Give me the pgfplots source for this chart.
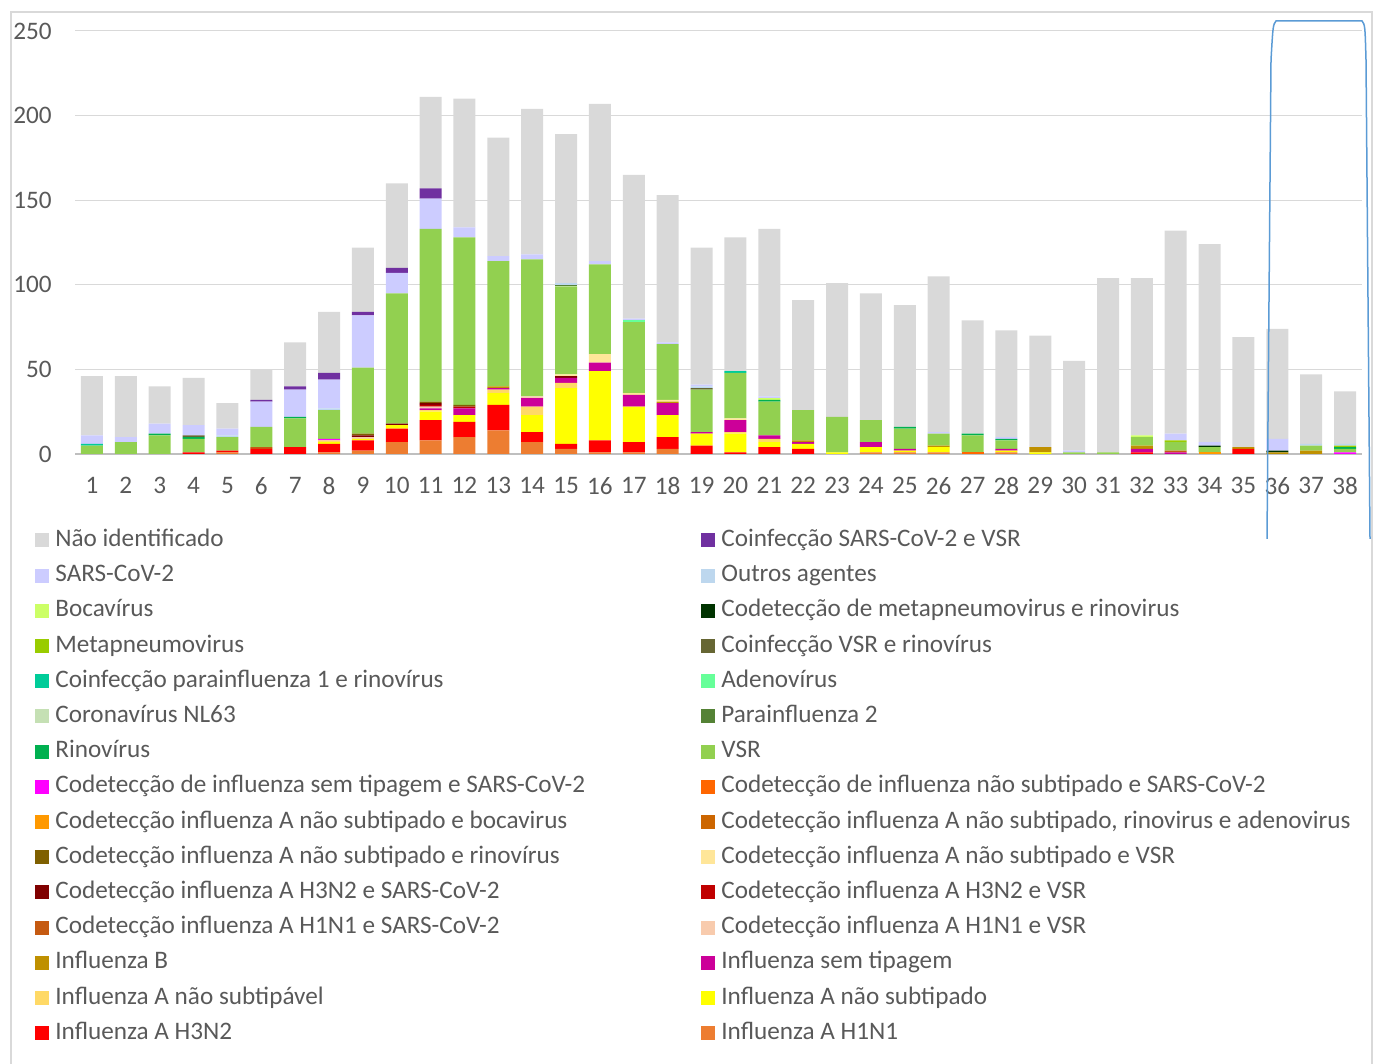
\documentclass[border=0pt]{standalone}
\usepackage{pgfplots}
\pgfplotsset{compat=1.18}
\usepackage{pgfplotstable}
\usepackage{fontspec}
\setmainfont{Carlito}
\definecolor{cnid}{HTML}{D9D9D9}
\definecolor{csarsv}{HTML}{7030A0}
\definecolor{csars}{HTML}{CCCCFF}
\definecolor{coutros}{HTML}{BDD7EE}
\definecolor{cboca}{HTML}{CCFF66}
\definecolor{cmetar}{HTML}{003300}
\definecolor{cmeta}{HTML}{99CC00}
\definecolor{cvsrr}{HTML}{666633}
\definecolor{cpfr}{HTML}{00CC99}
\definecolor{cadeno}{HTML}{66FF99}
\definecolor{cnl}{HTML}{C5E0B4}
\definecolor{cpf}{HTML}{548235}
\definecolor{crino}{HTML}{00B050}
\definecolor{cvsr}{HTML}{92D050}
\definecolor{csts}{HTML}{FF00FF}
\definecolor{cins}{HTML}{FF6600}
\definecolor{cansb}{HTML}{FF9900}
\definecolor{cansra}{HTML}{CC6600}
\definecolor{cansr}{HTML}{7F6000}
\definecolor{cansvsr}{HTML}{FFE699}
\definecolor{chts}{HTML}{800000}
\definecolor{chtv}{HTML}{C00000}
\definecolor{cho}{HTML}{C55A11}
\definecolor{chov}{HTML}{F8CBAD}
\definecolor{cfb}{HTML}{BF9000}
\definecolor{cst}{HTML}{CC0099}
\definecolor{cansv}{HTML}{FFD966}
\definecolor{cans}{HTML}{FFFF00}
\definecolor{chtn}{HTML}{FF0000}
\definecolor{chon}{HTML}{ED7D31}
\definecolor{ctxt}{HTML}{595959}
\definecolor{csel}{HTML}{5B9BD5}

\pgfplotstableread{
x h1n1 h3n2 ans ansv st fb h1v h1s h3v h3s ansvsr ansr ansra ansb ins sts vsr rino pf2 nl63 adeno pfr vsrr meta metar boca outros sars sarsv nid
1  0 0 0 0 0 0  0 0 0 0 0 0 0 0 0 0  5 0 0 0 0 1  0 0 0 0 0 5 0 35
2  0 0 0 0 0 0  0 0 0 0 0 0 0 0 0 0  7 0 0 0 0 0  0 0 0 0 0 3 0 36
3  0 0 0 0 0 0  0 0 0 0 0 0 0 0 0 0  11 1 0 0 0 0  0 0 0 0 0 6 0 22
4  0 1 0 0 0 0  0 0 0 0 0 0 0 0 0 0  8 1 0 0 0 0  1 0 0 0 0 6 0 28
5  1 1 0 0 0 0  0 0 0 0 0 0 0 0 0 0  8 0 0 0 0 0  0 0 0 0 1 4 0 15
6  0 3 0 0 0 0  0 1 0 0 0 0 0 0 0 0  12 0 0 0 0 0  0 0 0 0 0 15 1 18
7  0 4 0 0 0 0  0 0 0 0 0 0 0 0 0 0  17 1 0 0 0 0  0 0 0 0 0 16 2 26
8  1 5 1 1 0 0  0 0 0 0 0 0 0 0 0 1  17 0 0 0 0 0  0 0 0 0 1 17 4 36
9  2 6 1 0 0 0  1 0 0 1 0 1 0 0 0 0  39 0 0 0 0 0  0 0 0 0 0 31 2 38
10 7 8 2 0 0 0  0 0 0 1 0 0 0 0 0 0  77 0 0 0 0 0  0 0 0 0 0 12 3 50
11 8 12 5 1 1 0 1 0 1 1 0 1 0 0 0 0  102 0 0 0 0 0  0 0 0 0 0 18 6 54
12 10 9 4 0 4 0 0 0 1 0 0 1 0 0 0 0  99 0 0 0 0 0  0 0 0 0 0 6 0 76
13 14 15 7 2 1 1 0 0 0 0 0 0 0 0 0 0  74 0 0 0 0 0  0 0 0 0 0 3 0 70
14 7 6 10 5 5 0 1 0 0 0 0 0 0 0 0 0  81 0 0 0 0 0  0 0 0 0 0 3 0 86
15 3 3 33 3 3 0 0 0 0 1 1 0 0 0 0 0  52 0 1 0 0 0  0 0 0 0 1 0 0 88
16 1 7 41 0 5 0 0 0 0 0 5 0 0 0 0 0  53 0 0 0 0 0  0 0 0 0 0 2 0 93
17 1 6 21 0 7 0 0 0 0 0 1 0 0 0 0 0  42 0 0 0 1 0  0 0 0 0 0 1 0 85
18 3 7 13 0 7 1 0 0 0 0 1 0 0 0 0 0  33 0 0 0 0 0  0 0 0 0 0 1 0 87
19 0 5 7 0 1 0  0 0 0 0 0 0 0 0 0 0  25 0 0 0 0 0  1 0 0 0 1 1 0 81
20 0 1 11 1 7 0 0 0 0 0 1 0 0 0 0 0  27 0 0 0 0 1  0 0 0 0 0 0 0 79
21 0 4 3 2 2 0  0 0 0 0 0 0 0 0 0 0  20 1 0 0 0 0  0 0 0 1 0 1 0 99
22 0 3 3 0 1 1  0 0 0 0 0 0 0 0 0 0  18 0 0 0 0 0  0 0 0 0 0 0 0 65
23 0 0 1 0 0 0  0 0 0 0 0 0 0 0 0 0  21 0 0 0 0 0  0 0 0 0 0 0 0 79
24 1 0 3 0 3 0  0 0 0 0 0 0 0 0 0 0  13 0 0 0 0 0  0 0 0 0 0 0 0 75
25 1 0 1 0 1 0  0 0 0 0 0 0 0 0 0 0  12 1 0 0 0 0  0 0 0 0 0 0 0 72
26 1 0 3 0 0 1  0 0 0 0 0 0 0 0 0 0  7 0 0 0 0 0  0 0 0 0 0 1 0 92
27 0 0 0 0 0 0  0 0 0 0 0 0 0 0 1 0  10 1 0 0 0 0  0 0 0 0 0 0 0 67
28 1 0 1 0 1 0  0 0 0 0 0 0 0 0 0 0  5 1 0 0 0 0  0 0 0 0 0 1 0 63
29 0 0 1 0 0 3  0 0 0 0 0 0 0 0 0 0  0 0 0 0 0 0  0 0 0 0 0 0 0 66
30 0 0 0 0 0 0  0 0 0 0 0 0 0 0 0 0  1 0 0 0 0 0  0 0 0 0 0 1 0 53
31 0 0 0 0 0 0  0 0 0 0 0 0 0 0 0 0  1 0 0 0 0 0  0 0 0 0 0 0 0 103
32 0 1 0 0 2 2  0 0 0 0 0 0 0 0 0 0  5 0 0 0 0 0  0 0 0 1 0 0 0 93
33 0 0 0 0 1 0  0 1 0 0 0 0 0 0 0 0  5 0 0 0 0 0  0 1 0 0 0 4 0 120
34 0 0 0 0 0 0  0 0 0 0 0 0 0 1 0 0  3 0 0 0 0 0  0 0 1 0 0 2 0 117
35 0 3 0 0 0 1  0 0 0 0 0 0 0 0 0 0  0 0 0 0 0 0  0 0 0 0 0 0 0 65
36 0 0 0 0 0 1  0 0 0 0 0 0 0 0 0 0  0 0 0 0 0 0  0 0 1 0 0 7 0 65
37 0 0 0 0 0 2  0 0 0 0 0 0 0 0 0 0  3 0 0 0 0 0  0 0 0 0 1 0 0 41
38 0 0 0 0 0 0  0 0 0 0 0 0 0 0 0 1  2 1 0 0 0 0  0 1 0 0 1 0 0 31
}\data

\newcommand{\addbar}[3]{%
  \addplot[fill=#2, draw=none] table[x=x, y=#1]{\data};
  \addlegendentry{\makebox[322pt][l]{\hspace*{1pt}#3}}}

\begin{document}
\begin{tikzpicture}
\path[use as bounding box] (0pt,0pt) rectangle (687.5pt,532pt);
\draw[color=cnid, line width=0.6pt] (5.5pt,-5pt) rectangle (686pt,526pt);
\begin{axis}[
  at={(37.5pt,305pt)}, anchor=south west,
  scale only axis, width=643.5pt, height=211.5pt,
  ybar stacked, bar width=11pt,
  xmin=0.5, xmax=38.5, ymin=0, ymax=250,
  xtick={1,...,38}, ytick={50,100,...,250},
  extra y ticks={0},
  extra y tick style={grid style={color=black!25, line width=1pt}},
  ymajorgrids, grid style={color=cnid, line width=0.5pt},
  axis line style={draw=none}, tick style={draw=none},
  major tick length=0pt,
  /pgf/number format/assume math mode=true,
  tick label style={font=\fontsize{12.6}{15}\selectfont, color=ctxt},
  yticklabel style={anchor=east, inner sep=0pt, xshift=-11.5pt},
  xticklabel style={anchor=north, inner sep=0pt, yshift=-11.5pt},
  reverse legend,
  legend columns=2,
  legend cell align=left,
  legend style={at={(axis description cs:-0.0311,-0.175)}, anchor=north west,
    draw=none, fill=none, inner sep=0pt,
    font=\fontsize{12.6}{15}\selectfont, text=ctxt,
    row sep=5.6pt,
    nodes={inner ysep=0pt, text height=9pt, text depth=3pt}},
  legend image code/.code={\fill[#1] (0pt,-3.5pt) rectangle (7pt,3.5pt);},
]
\addbar{h1n1}{chon}{Influenza A H1N1}
\addbar{h3n2}{chtn}{Influenza A H3N2}
\addbar{ans}{cans}{Influenza A não subtipado}
\addbar{ansv}{cansv}{Influenza A não subtipável}
\addbar{st}{cst}{Influenza sem tipagem}
\addbar{fb}{cfb}{Influenza B}
\addbar{h1v}{chov}{Codetecção influenza A H1N1 e VSR}
\addbar{h1s}{cho}{Codetecção influenza A H1N1 e SARS-CoV-2}
\addbar{h3v}{chtv}{Codetecção influenza A H3N2 e VSR}
\addbar{h3s}{chts}{Codetecção influenza A H3N2 e SARS-CoV-2}
\addbar{ansvsr}{cansvsr}{Codetecção influenza A não subtipado e VSR}
\addbar{ansr}{cansr}{Codetecção influenza A não subtipado e rinovírus}
\addbar{ansra}{cansra}{Codetecção influenza A não subtipado, rinovirus e adenovirus}
\addbar{ansb}{cansb}{Codetecção influenza A não subtipado e bocavirus}
\addbar{ins}{cins}{Codetecção de influenza não subtipado e SARS-CoV-2}
\addbar{sts}{csts}{Codetecção de influenza sem tipagem e SARS-CoV-2}
\addbar{vsr}{cvsr}{VSR}
\addbar{rino}{crino}{Rinovírus}
\addbar{pf2}{cpf}{Parainfluenza 2}
\addbar{nl63}{cnl}{Coronavírus NL63}
\addbar{adeno}{cadeno}{Adenovírus}
\addbar{pfr}{cpfr}{Coinfecção parainfluenza 1 e rinovírus}
\addbar{vsrr}{cvsrr}{Coinfecção VSR e rinovírus}
\addbar{meta}{cmeta}{Metapneumovirus}
\addbar{metar}{cmetar}{Codetecção de metapneumovirus e rinovirus}
\addbar{boca}{cboca}{Bocavírus}
\addbar{outros}{coutros}{Outros agentes}
\addbar{sars}{csars}{SARS-CoV-2}
\addbar{sarsv}{csarsv}{Coinfecção SARS-CoV-2 e VSR}
\addbar{nid}{cnid}{Não identificado}
\end{axis}
\draw[color=csel, line width=0.75pt] (633.5pt,262.5pt) -- (635.5pt,502pt) .. controls (636.5pt,519.5pt) .. (638pt,521.5pt) -- (681pt,521.5pt) .. controls (682.5pt,519.5pt) .. (683pt,502pt) -- (685pt,262.5pt);
\end{tikzpicture}
\end{document}
